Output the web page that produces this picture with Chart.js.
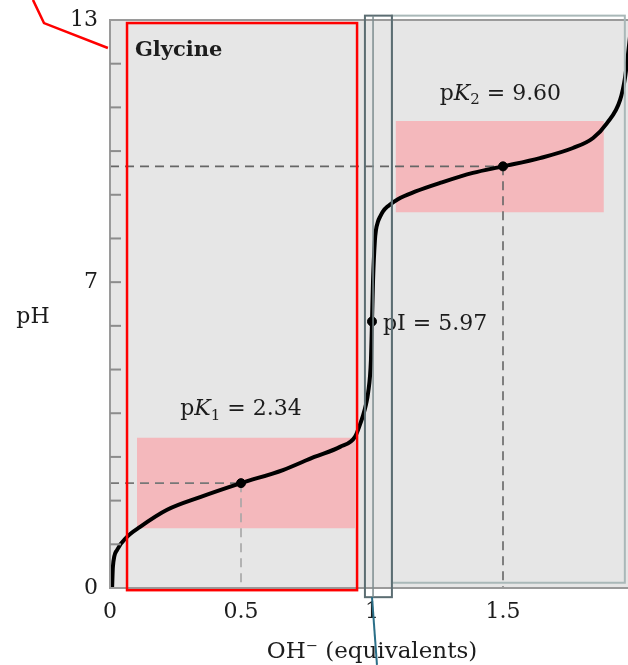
<!DOCTYPE html>
<html>
<head>
<meta charset="utf-8">
<script src="https://cdn.jsdelivr.net/npm/chart.js@4"></script>
<style>
  html, body { margin: 0; padding: 0; background: #fff; overflow: hidden; }
  #wrap { width: 700px; height: 665px; }
</style>
</head>
<body>
<div id="wrap"><canvas id="chart" width="700" height="665"></canvas></div>
<script>
// titration curve (OH- equivalents vs pH)
const curveX = [0.008, 0.011, 0.027, 0.065, 0.115, 0.218, 0.344, 0.5, 0.66, 0.78, 0.878, 0.935, 0.954, 0.966, 0.977, 0.985, 0.996, 1.0, 1.004, 1.011, 1.015, 1.023, 1.031, 1.042, 1.061, 1.099, 1.164, 1.26, 1.385, 1.5, 1.641, 1.767, 1.844, 1.897, 1.947, 1.966, 1.99];
const curvePH = [0, 0.48, 0.87, 1.17, 1.40, 1.79, 2.08, 2.4, 2.70, 3.00, 3.23, 3.46, 3.74, 3.95, 4.2, 4.46, 5.22, 6.1, 7.05, 7.95, 8.19, 8.39, 8.5, 8.62, 8.74, 8.9, 9.07, 9.27, 9.50, 9.65, 9.84, 10.07, 10.30, 10.64, 11.17, 11.69, 12.9];

// marked points: pK1, pI, pK2
const keyX = [0.5, 1.0, 1.5];
const keyPH = [2.4, 6.1, 9.65];
const keyLabels = ['pK1 = 2.34', 'pI = 5.97', 'pK2 = 9.60'];

// buffering bands around pK1 / pK2
const band1X = [0.103, 0.935];
const band1PH = [1.37, 3.44];
const band2X = [1.09, 1.885];
const band2PH = [8.6, 10.69];

const xTicks = [0, 0.5, 1, 1.5, 2];
const yLabelled = [0, 7, 13];

const SERIF = '"DejaVu Serif", "Liberation Serif", serif';

const curvePoints = curveX.map((x, i) => ({ x, y: curvePH[i] }));
const keyPoints = keyX.map((x, i) => ({ x, y: keyPH[i] }));

function band(xs, ys) {
  return {
    type: 'line',
    data: [{ x: xs[0], y: ys[1] }, { x: xs[1], y: ys[1] }],
    borderWidth: 0,
    pointRadius: 0,
    backgroundColor: '#f4b8bc',
    fill: { value: ys[0] },
    order: 10
  };
}

function dashed(pts, color) {
  return {
    type: 'line',
    data: pts,
    borderColor: color,
    borderWidth: 1.6,
    borderDash: [9, 6],
    pointRadius: 0,
    fill: false,
    order: 5
  };
}

// text with italic K and subscript digit, e.g. "pK1 = 2.34"
function drawPK(ctx, text, cx, cy) {
  const sub = text.charAt(2);
  const rest = text.slice(3);
  const base = '22px ' + SERIF;
  const ital = 'italic 22px ' + SERIF;
  const small = '15px ' + SERIF;
  ctx.font = base; const wp = ctx.measureText('p').width;
  ctx.font = ital; const wk = ctx.measureText('K').width;
  ctx.font = small; const ws = ctx.measureText(sub).width;
  ctx.font = base; const wr = ctx.measureText(rest).width;
  let x = cx - (wp + wk + ws + wr) / 2;
  ctx.textAlign = 'left';
  ctx.textBaseline = 'middle';
  ctx.font = base; ctx.fillText('p', x, cy); x += wp;
  ctx.font = ital; ctx.fillText('K', x, cy); x += wk;
  ctx.font = small; ctx.fillText(sub, x, cy + 6); x += ws;
  ctx.font = base; ctx.fillText(rest, x, cy);
}

const decor = {
  id: 'decor',
  beforeDatasetsDraw(chart) {
    const { ctx, chartArea: a } = chart;
    ctx.save();
    ctx.fillStyle = '#e6e6e6';
    ctx.fillRect(a.left, a.top, a.right - a.left, a.bottom - a.top);
    ctx.restore();
  },
  afterDraw(chart) {
    const { ctx, chartArea: a } = chart;
    const xs = chart.scales.x, ys = chart.scales.y;
    const px = v => xs.getPixelForValue(v);
    const py = v => ys.getPixelForValue(v);
    ctx.save();

    // frame
    ctx.strokeStyle = '#9a9a9a';
    ctx.lineWidth = 2;
    ctx.beginPath();
    ctx.moveTo(a.right + 2, a.top);
    ctx.lineTo(a.left, a.top);
    ctx.lineTo(a.left, a.bottom);
    ctx.lineTo(a.right + 2, a.bottom);
    ctx.stroke();

    // inside ticks on pH axis
    ctx.strokeStyle = '#8c8c8c';
    for (let v = 1; v <= 12; v++) {
      ctx.beginPath();
      ctx.moveTo(a.left, py(v));
      ctx.lineTo(a.left + 11, py(v));
      ctx.stroke();
    }

    // texts
    ctx.fillStyle = '#1c1c1c';
    ctx.textBaseline = 'middle';
    ctx.font = 'bold 21px ' + SERIF;
    ctx.textAlign = 'left';
    ctx.fillText('Glycine', px(0.095), py(12.29));

    drawPK(ctx, keyLabels[0], px(0.5), py(4.08));
    drawPK(ctx, keyLabels[2], px(1.49), py(11.31));

    ctx.font = '22px ' + SERIF;
    ctx.textAlign = 'left';
    ctx.fillText(keyLabels[1], px(1.042), py(6.03));

    ctx.font = '23px ' + SERIF;
    ctx.textAlign = 'center';
    ctx.fillText('OH\u207B (equivalents)', px(1), 652);
    ctx.font = '22px ' + SERIF;
    ctx.fillText('pH', 33, py(6.2));

    // overlay annotation boxes
    ctx.lineWidth = 2.5;
    ctx.strokeStyle = '#ff0000';
    ctx.strokeRect(px(0.065), py(12.93), px(0.943) - px(0.065), py(-0.05) - py(12.93));
    ctx.beginPath();
    ctx.moveTo(px(-0.294), py(13.46));
    ctx.lineTo(px(-0.252), py(12.93));
    ctx.lineTo(px(-0.008), py(12.36));
    ctx.stroke();

    ctx.lineWidth = 2;
    ctx.strokeStyle = '#a9b8b8';
    ctx.strokeRect(px(1.076), py(13.1), px(1.965) - px(1.076), py(0.12) - py(13.1));

    ctx.strokeStyle = '#5b6d72';
    ctx.strokeRect(px(0.973), py(13.1), px(1.076) - px(0.973), py(-0.21) - py(13.1));
    ctx.lineWidth = 1.5;
    ctx.strokeStyle = '#7d8c8f';
    ctx.beginPath();
    ctx.moveTo(px(1.004), py(13.1));
    ctx.lineTo(px(1.004), py(-0.21));
    ctx.stroke();

    ctx.lineWidth = 2;
    ctx.strokeStyle = '#2b6f88';
    ctx.beginPath();
    ctx.moveTo(px(1.0), py(-0.21));
    ctx.lineTo(px(1.019), py(-1.76));
    ctx.stroke();

    ctx.restore();
  }
};

new Chart(document.getElementById('chart'), {
  type: 'scatter',
  data: {
    datasets: [
      band(band1X, band1PH),
      band(band2X, band2PH),
      dashed([{ x: 0, y: keyPH[0] }, { x: keyX[0], y: keyPH[0] }], '#777'),
      dashed([{ x: keyX[0], y: keyPH[0] }, { x: keyX[0], y: 0 }], '#a6a6a6'),
      dashed([{ x: 0, y: keyPH[2] }, { x: keyX[2], y: keyPH[2] }], '#666'),
      dashed([{ x: keyX[2], y: keyPH[2] }, { x: keyX[2], y: 0 }], '#666'),
      {
        type: 'line',
        data: curvePoints,
        borderColor: '#000',
        borderWidth: 4,
        pointRadius: 0,
        cubicInterpolationMode: 'monotone',
        fill: false,
        order: 2
      },
      {
        type: 'scatter',
        data: keyPoints,
        backgroundColor: '#000',
        borderColor: '#000',
        pointRadius: 4.5,
        order: 1
      }
    ]
  },
  options: {
    responsive: false,
    animation: false,
    devicePixelRatio: 1,
    layout: { padding: { top: 20, right: 66, left: 0, bottom: 0 } },
    plugins: { legend: { display: false }, tooltip: { enabled: false } },
    scales: {
      x: {
        type: 'linear',
        min: 0,
        max: 2,
        afterFit: s => { s.height = 77; },
        afterBuildTicks: s => { s.ticks = xTicks.map(v => ({ value: v })); },
        grid: { display: false, drawTicks: false },
        border: { display: false },
        ticks: {
          padding: 11,
          color: '#1c1c1c',
          autoSkip: false,
          maxRotation: 0,
          callback: v => String(v),
          font: { family: SERIF, size: 22 }
        }
      },
      y: {
        type: 'linear',
        min: 0,
        max: 13,
        afterFit: s => { s.width = 110; },
        afterBuildTicks: s => { s.ticks = yLabelled.map(v => ({ value: v })); },
        grid: { display: false, drawTicks: false },
        border: { display: false },
        ticks: {
          padding: 12,
          color: '#1c1c1c',
          autoSkip: false,
          callback: v => String(v),
          font: { family: SERIF, size: 22, lineHeight: 0.5 }
        }
      }
    }
  },
  plugins: [decor]
});
</script>
</body>
</html>
